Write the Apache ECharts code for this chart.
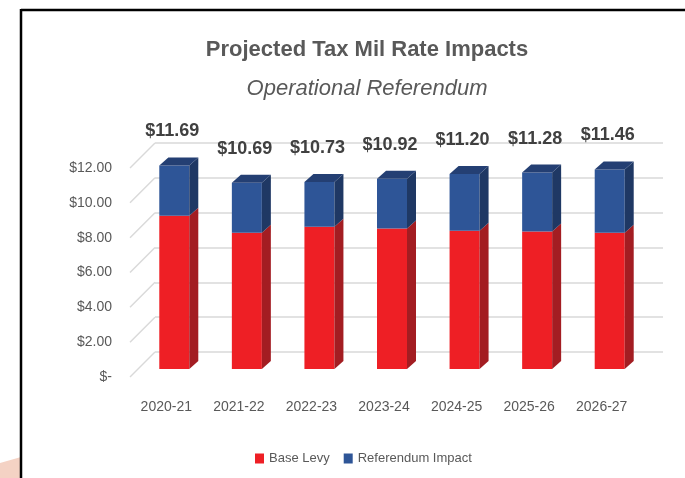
<!DOCTYPE html>
<html>
<head>
<meta charset="utf-8">
<script src="https://cdn.jsdelivr.net/npm/echarts@6/dist/echarts.min.js"></script>
<style>html,body{margin:0;padding:0;background:#fff;}#c{width:685px;height:478px;}</style>
</head>
<body>
<div id="c"></div>
<script>
const categories = ['2020-21','2021-22','2022-23','2023-24','2024-25','2025-26','2026-27'];
const baseLevy = [8.80, 7.83, 8.17, 8.06, 7.94, 7.89, 7.83];
const referendumImpact = [2.89, 2.86, 2.56, 2.86, 3.26, 3.39, 3.63];
const yTicks = [0, 2, 4, 6, 8, 10, 12];

const FONT = "'Liberation Sans Narrow', 'Liberation Sans', sans-serif";
const GREY = '#595959';
const DX = 9, DY = -8;      // bar depth
const SHIFT_X = 8, SHIFT_Y = -8; // bars sit behind the front plane
const WALL_DX = 25, WALL_DY = -25; // back wall offset
const BAR_W = 30;

function barRender(front, side, top, withLabel) {
  return function (params, api) {
    const i = api.value(0), s = api.value(1), e = api.value(2), total = api.value(3);
    const p0 = api.coord([i, s]);
    const p1 = api.coord([i, e]);
    const cx = p0[0] + SHIFT_X;
    const L = cx - BAR_W / 2, R = cx + BAR_W / 2;
    const yb = p0[1] + SHIFT_Y, yt = p1[1] + SHIFT_Y;
    const children = [
      { type: 'rect', shape: { x: L, y: yt, width: BAR_W, height: yb - yt }, style: { fill: front } },
      { type: 'polygon', shape: { points: [[R, yb], [R + DX, yb + DY], [R + DX, yt + DY], [R, yt]] }, style: { fill: side } }
    ];
    if (withLabel) {
      children.push({ type: 'polygon', shape: { points: [[L, yt], [L + DX, yt + DY], [R + DX, yt + DY], [R, yt]] }, style: { fill: top } });
      children.push({ type: 'text', style: {
        text: '$' + total.toFixed(2), x: cx - 2, y: yt + DY - 17,
        align: 'center', verticalAlign: 'bottom',
        font: "bold 18px " + FONT, fill: '#404040' } });
    }
    return { type: 'group', children: children };
  };
}

const baseData = baseLevy.map((v, i) => [i, 0, v, v + referendumImpact[i]]);
const refData = referendumImpact.map((v, i) => [i, baseLevy[i], baseLevy[i] + v, baseLevy[i] + v]);
const diagData = yTicks.map(v => [v]);

const chart = echarts.init(document.getElementById('c'));
chart.setOption({
  backgroundColor: '#fff',
  animation: false,
  graphic: [
    { type: 'polygon', shape: { points: [[0, 463], [21, 457], [21, 478], [0, 478]] }, style: { fill: '#F4D2C4' } },
    { type: 'line', shape: { x1: 21, y1: 10, x2: 685, y2: 10 }, style: { stroke: '#000', lineWidth: 2.5 } },
    { type: 'line', shape: { x1: 21, y1: 9, x2: 21, y2: 478 }, style: { stroke: '#000', lineWidth: 2.5 } },
    { type: 'text', x: 367, y: 50, style: { text: 'Projected Tax Mil Rate Impacts', align: 'center', verticalAlign: 'middle', font: "bold 22px " + FONT, fill: GREY } },
    { type: 'text', x: 367, y: 89, style: { text: 'Operational Referendum', align: 'center', verticalAlign: 'middle', font: "italic 22px " + FONT, fill: GREY } }
  ],
  legend: {
    top: 447, left: 250,
    itemWidth: 9, itemHeight: 10, itemGap: 14, icon: 'rect',
    textStyle: { color: GREY, fontSize: 13, fontFamily: FONT },
    data: ['Base Levy', 'Referendum Impact']
  },
  grid: [
    { left: 130, right: 47, top: 168, bottom: 101 },
    { left: 130 + WALL_DX, right: 47 - WALL_DX, top: 168 + WALL_DY, bottom: 101 - WALL_DY }
  ],
  xAxis: [
    { type: 'category', gridIndex: 0, data: categories,
      axisLine: { show: false }, axisTick: { show: false },
      axisLabel: { color: GREY, fontSize: 14, fontFamily: FONT, margin: 23 } },
    { type: 'category', gridIndex: 1, data: categories, show: false }
  ],
  yAxis: [
    { type: 'value', gridIndex: 0, min: 0, max: 12, interval: 2,
      axisLine: { show: false }, axisTick: { show: false }, splitLine: { show: false },
      axisLabel: { color: GREY, fontSize: 14, fontFamily: FONT, margin: 18,
        formatter: v => v === 0 ? '$-' : '$' + v.toFixed(2) } },
    { type: 'value', gridIndex: 1, min: 0, max: 12, interval: 2,
      axisLine: { show: false }, axisTick: { show: false }, axisLabel: { show: false },
      splitLine: { show: true, lineStyle: { color: '#D9D9D9', width: 1.5 } } }
  ],
  series: [
    { type: 'custom', name: 'diag', xAxisIndex: 0, yAxisIndex: 0, silent: true,
      data: diagData, encode: { y: 0 },
      renderItem: function (params, api) {
        const x0 = params.coordSys.x;
        const y = api.coord([0, api.value(0)])[1];
        return { type: 'line', shape: { x1: x0, y1: y, x2: x0 + WALL_DX, y2: y + WALL_DY },
          style: { stroke: '#D9D9D9', lineWidth: 1.5 } };
      } },
    { type: 'custom', name: 'Base Levy', xAxisIndex: 0, yAxisIndex: 0,
      itemStyle: { color: '#EE1F25' },
      data: baseData, encode: { x: 0, y: [1, 2] },
      renderItem: barRender('#EE1F25', '#A31D22', '#C81E24', false) },
    { type: 'custom', name: 'Referendum Impact', xAxisIndex: 0, yAxisIndex: 0,
      itemStyle: { color: '#2E5597' },
      data: refData, encode: { x: 0, y: [1, 2] },
      renderItem: barRender('#2E5597', '#1F3864', '#243F73', true) }
  ]
});
</script>
</body>
</html>
